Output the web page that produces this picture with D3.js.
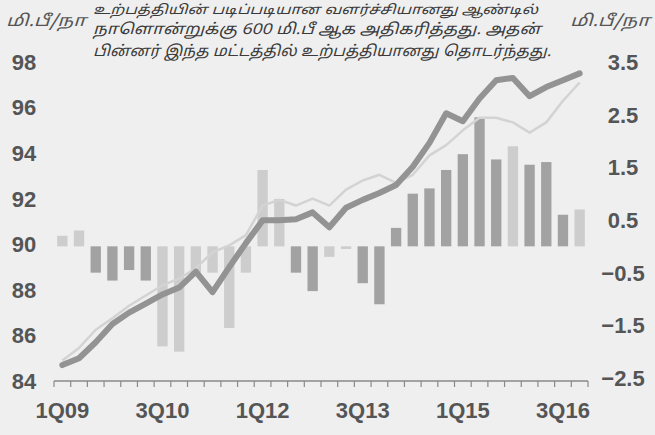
<!DOCTYPE html>
<html><head><meta charset="utf-8">
<script src="https://cdn.jsdelivr.net/npm/d3@7"></script>
<style>
html,body{margin:0;padding:0;background:#efefef;}
svg{display:block;}
</style></head>
<body>
<svg id="chart" width="655" height="435"></svg>
<script>
// ---- data ----
const quarters = ["1Q09","2Q09","3Q09","4Q09","1Q10","2Q10","3Q10","4Q10",
  "1Q11","2Q11","3Q11","4Q11","1Q12","2Q12","3Q12","4Q12",
  "1Q13","2Q13","3Q13","4Q13","1Q14","2Q14","3Q14","4Q14",
  "1Q15","2Q15","3Q15","4Q15","1Q16","2Q16","3Q16","4Q16"];
const xTickLabels = ["1Q09","3Q10","1Q12","3Q13","1Q15","3Q16"];
const leftTicks = [84,86,88,90,92,94,96,98];
const rightTicks = [-2.5,-1.5,-0.5,0.5,1.5,2.5,3.5];
// supply (dark thick line, left axis, mb/d)
const supply = [84.7,85.0,85.7,86.5,87.0,87.4,87.8,88.1,88.8,87.9,89.0,90.05,91.05,91.05,91.1,91.4,
  90.75,91.6,91.95,92.25,92.6,93.4,94.45,95.75,95.4,96.4,97.2,97.3,96.5,96.9,97.2,97.5];
// demand (light thin line, left axis, mb/d)
const demand = [84.9,85.45,86.25,86.75,87.3,87.75,88.2,88.5,88.95,89.65,89.95,90.4,91.7,91.95,91.7,92.0,
  91.7,92.4,92.8,93.05,92.7,93.05,93.9,94.35,95.0,95.55,95.55,95.35,94.9,95.35,96.3,97.1];
// balance bars (right axis), darker series
const barsDark = [null,null,-0.5,-0.65,-0.45,-0.65,null,null,null,null,null,null,null,null,-0.5,-0.85,
  null,null,-0.7,-1.1,0.35,1.0,1.1,1.45,1.75,2.45,1.65,null,1.55,1.6,0.6,null];
// balance bars (right axis), lighter series
const barsLight = [0.2,0.3,null,null,null,null,-1.9,-2.0,-0.5,-0.5,-1.55,-0.5,1.45,0.9,null,null,
  -0.2,-0.05,null,null,null,null,null,null,null,null,null,1.9,null,null,null,0.7];
const unitLabel = "மி.பீ/நா";
const noteLines = [
  "உற்பத்தியின் படிப்படியான வளர்ச்சியானது ஆண்டில்",
  "நாளொன்றுக்கு 600 மி.பீ ஆக அதிகரித்தது. அதன்",
  "பின்னர் இந்த மட்டத்தில் உற்பத்தியானது தொடர்ந்தது."
];

// ---- drawing ----
const svg = d3.select("#chart");
svg.append("rect").attr("width",655).attr("height",435).attr("fill","#efefef");

const x = d3.scaleBand().domain(quarters).range([54,588]).paddingInner(0.38).paddingOuter(0.19);
const xb = d3.scaleBand().domain(quarters).range([54,588]);
const yL = d3.scaleLinear().domain([84,98]).range([381,62]);
const yR = d3.scaleLinear().domain([-2.5,3.5]).range([378,62]);

const tickFont = "'Liberation Sans', Arial, sans-serif";
const tamilFont = "'Noto Sans Tamil','Noto Sans','Lohit Tamil',sans-serif";

// bars
function drawBars(data, color){
  svg.append("g").selectAll("rect")
    .data(quarters.map((q,i)=>({q, v:data[i]})).filter(d=>d.v!=null))
    .join("rect")
    .attr("x", d=>x(d.q))
    .attr("width", x.bandwidth())
    .attr("y", d=>Math.min(yR(d.v), yR(0)))
    .attr("height", d=>Math.abs(yR(d.v)-yR(0)))
    .attr("fill", color);
}
drawBars(barsLight, "#cdcdcd");
drawBars(barsDark, "#a2a2a2");

// lines
const cx = q => xb(q) + xb.bandwidth()/2;
const lineL = d3.line().x((d,i)=>cx(quarters[i])).y(d=>yL(d));
svg.append("path").datum(demand).attr("d", lineL)
  .attr("fill","none").attr("stroke","#d3d3d3").attr("stroke-width",2.5)
  .attr("stroke-linejoin","round");
svg.append("path").datum(supply).attr("d", lineL)
  .attr("fill","none").attr("stroke","#939393").attr("stroke-width",6)
  .attr("stroke-linejoin","round").attr("stroke-linecap","round");

// x axis
const gx = svg.append("g").attr("transform","translate(0,381)");
gx.append("line").attr("x1",54).attr("x2",588).attr("stroke","#8a8a8a").attr("stroke-width",1.5);
const bounds = quarters.map(q=>xb(q)).concat([588]);
gx.selectAll("line.tk").data(bounds).join("line").attr("class","tk")
  .attr("x1",d=>d).attr("x2",d=>d).attr("y1",0).attr("y2",6)
  .attr("stroke","#8a8a8a").attr("stroke-width",1.2);
gx.selectAll("text").data(xTickLabels).join("text")
  .attr("x", d=>cx(d)).attr("y", 37)
  .attr("text-anchor","middle")
  .attr("font-family",tickFont).attr("font-weight","bold").attr("font-size",22)
  .attr("fill","#555").text(d=>d);

// left axis labels
svg.append("g").selectAll("text").data(leftTicks).join("text")
  .attr("x",24).attr("y",d=>yL(d)).attr("dy","0.36em")
  .attr("text-anchor","middle")
  .attr("font-family",tickFont).attr("font-weight","bold").attr("font-size",22)
  .attr("fill","#555").text(d=>d);

// right axis labels
svg.append("g").selectAll("text").data(rightTicks).join("text")
  .attr("x",623).attr("y",d=>yR(d)).attr("dy","0.36em")
  .attr("text-anchor","middle")
  .attr("font-family",tickFont).attr("font-weight","bold").attr("font-size",22)
  .attr("fill","#555").text(d=>d3.format(".1f")(d));

// unit labels
[[6,"start"],[650,"end"]].forEach(([px,anc])=>{
  svg.append("text").attr("x",px).attr("y",26).attr("text-anchor",anc)
    .attr("font-family",tamilFont).attr("font-size",16).attr("font-style","italic").attr("fill","#555")
    .attr("textLength",80).attr("lengthAdjust","spacingAndGlyphs")
    .text(unitLabel);
});

// annotation
const noteY = [14, 34, 56];
const noteW = [445, 448, 458];
const noteSize = [13, 15, 15];
noteLines.forEach((t,i)=>{
  svg.append("text").attr("x",93).attr("y",noteY[i])
    .attr("font-family",tamilFont).attr("font-size",noteSize[i]).attr("font-style","italic")
    .attr("fill","#3a3a3a")
    .attr("textLength",noteW[i]).attr("lengthAdjust","spacingAndGlyphs")
    .text(t);
});
</script>
</body></html>
